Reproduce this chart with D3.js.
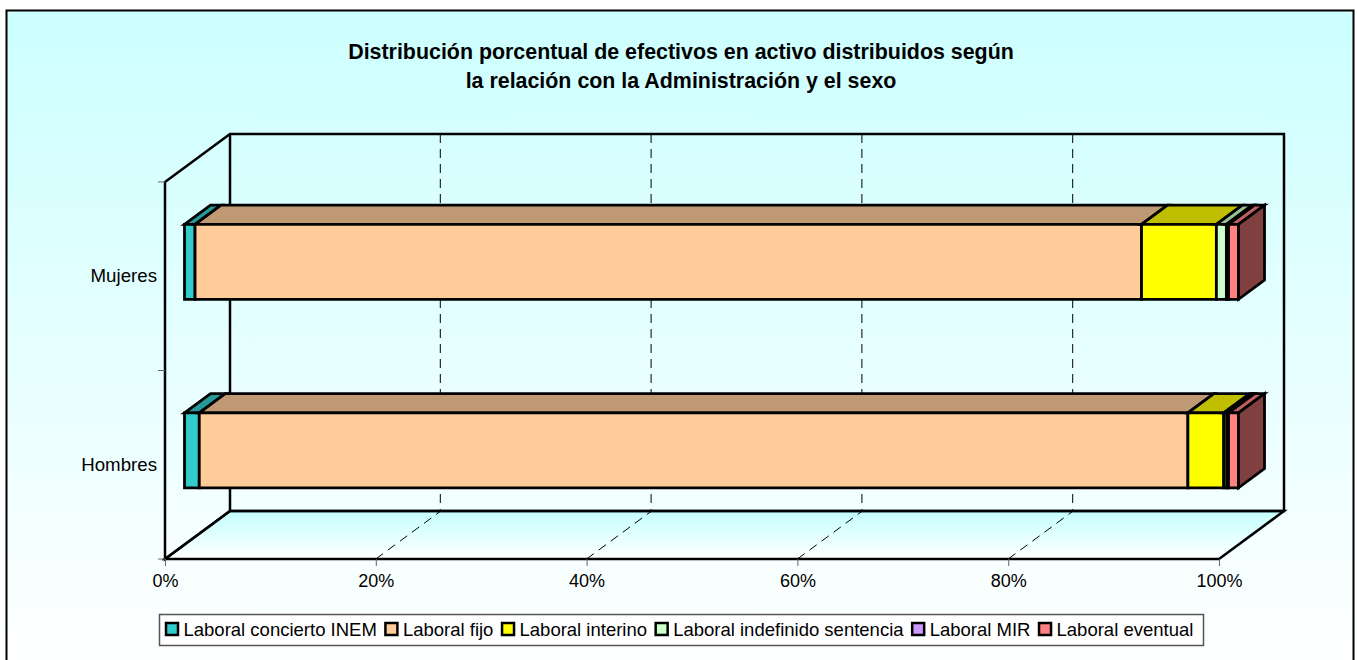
<!DOCTYPE html>
<html>
<head>
<meta charset="utf-8">
<style>
  html, body { margin: 0; padding: 0; background: #fff; }
  svg { display: block; }
  text { font-family: "Liberation Sans", Arial, sans-serif; fill: #000; }
</style>
</head>
<body>
<div id="app"></div>
<script src="https://cdn.jsdelivr.net/npm/d3@7"></script>
<script>
const titleLines = [
  "Distribución porcentual de efectivos en activo distribuidos según",
  "la relación con la Administración y el sexo"
];
const categories = ["Mujeres", "Hombres"];
const seriesNames = [
  "Laboral concierto INEM",
  "Laboral fijo",
  "Laboral interino",
  "Laboral indefinido sentencia",
  "Laboral MIR",
  "Laboral eventual"
];
const seriesColors = ["#33CCCC", "#FFCC99", "#FFFF00", "#CCFFCC", "#CC99FF", "#FF8080"];
// percent per category, same order as categories
const inem = [1.0, 1.4];
const fijo = [89.8, 93.8];
const interino = [7.1, 3.4];
const indefinido = [0.95, 0.3];
const mir = [0.2, 0.15];
const eventual = [0.95, 0.95];
const xTicks = [0, 20, 40, 60, 80, 100];

const width = 1357;
const height = 660;

const svg = d3.select("#app").append("svg").attr("width", width).attr("height", height);

const grad = svg.append("defs").append("linearGradient")
  .attr("id", "bg").attr("x1", 0).attr("y1", 0).attr("x2", 0).attr("y2", 1);
grad.append("stop").attr("offset", "0%").attr("stop-color", "#CCFFFF");
grad.append("stop").attr("offset", "100%").attr("stop-color", "#FFFFFF");

// chart area
svg.append("rect")
  .attr("x", 6.5).attr("y", 10.5).attr("width", 1347).attr("height", 660)
  .attr("fill", "url(#bg)").attr("stroke", "#000").attr("stroke-width", 2);

svg.append("g").selectAll("text").data(titleLines).join("text")
  .attr("x", 681).attr("y", (d, i) => 59 + i * 29)
  .attr("text-anchor", "middle")
  .attr("font-weight", "bold").attr("font-size", 21.4)
  .text(d => d);

// front plane scales, the depth goes up and to the right
const x = d3.scaleLinear().domain([0, 100]).range([165, 1219]);
const y = d3.scaleBand().domain(categories).range([182, 559]);
const depth = [65, -48];
const barStart = 0.3; // where the bar sits along the depth
const barDepth = 0.4;

const at = (px, py, t) => [px + depth[0] * t, py + depth[1] * t];
const poly = pts => "M" + pts.map(p => p.join(",")).join("L") + "Z";

const black = { stroke: "#000", width: 2.5 };
const floorGrad = svg.select("defs").append("linearGradient")
  .attr("id", "floor").attr("x1", 0).attr("y1", 0).attr("x2", 0).attr("y2", 1);
floorGrad.append("stop").attr("offset", "0%").attr("stop-color", "#C4FFFF");
floorGrad.append("stop").attr("offset", "100%").attr("stop-color", "#FFFFFF");

const yTop = y.range()[0];
const yBottom = y.range()[1];

// floor
svg.append("path")
  .attr("d", poly([[x(0), yBottom], [x(100), yBottom], at(x(100), yBottom, 1), at(x(0), yBottom, 1)]))
  .attr("fill", "url(#floor)").attr("stroke", black.stroke).attr("stroke-width", black.width);

// walls
svg.append("path")
  .attr("d", poly([[x(0), yTop], at(x(0), yTop, 1), at(x(100), yTop, 1), at(x(100), yBottom, 1), at(x(0), yBottom, 1), [x(0), yBottom]]))
  .attr("fill", "none").attr("stroke", black.stroke).attr("stroke-width", black.width);
svg.append("path")
  .attr("d", "M" + at(x(0), yTop, 1).join(",") + "L" + at(x(0), yBottom, 1).join(","))
  .attr("stroke", black.stroke).attr("stroke-width", black.width);

// gridlines on back wall and floor
const grid = svg.append("g").attr("fill", "none").attr("stroke", "#000").attr("stroke-dasharray", "9,6");
xTicks.slice(1, -1).forEach(t => {
  const b = at(x(t), yBottom, 1);
  const tp = at(x(t), yTop, 1);
  grid.append("path").attr("d", `M${tp[0] - 0.5},${tp[1]}V${b[1]}`);
  grid.append("path").attr("d", `M${x(t)},${yBottom}L${b[0]},${b[1]}`);
});

// axes
const xAxis = svg.append("g")
  .attr("transform", `translate(0,${yBottom})`)
  .call(d3.axisBottom(x).tickValues(xTicks).tickFormat(d => d + "%").tickSize(7).tickPadding(8));
xAxis.select(".domain").remove();
xAxis.selectAll("line").attr("stroke", "#666");
xAxis.selectAll("text").attr("font-size", 18).attr("font-family", null);

const yAxis = svg.append("g");
[yTop].concat(categories.map(c => y(c) + y.bandwidth())).forEach(v => {
  yAxis.append("line").attr("x1", x(0) - 7).attr("x2", x(0)).attr("y1", v).attr("y2", v).attr("stroke", "#666");
});
yAxis.selectAll("text").data(categories).join("text")
  .attr("x", 157).attr("y", d => y(d) + y.bandwidth() / 2 + 6)
  .attr("text-anchor", "end").attr("font-size", 18.7)
  .text(d => d);

// bars
const rows = categories.map((c, i) => ({
  category: c, a: inem[i], b: fijo[i], c2: interino[i], d: indefinido[i], e: mir[i], f: eventual[i]
}));
const keys = ["a", "b", "c2", "d", "e", "f"];
const stacked = d3.stack().keys(keys)(rows);
const barH = 75;

const shade = (col, k) => {
  const c = d3.rgb(col);
  return d3.rgb(c.r * k, c.g * k, c.b * k).formatHex();
};

const bars = svg.append("g").attr("stroke", black.stroke).attr("stroke-width", 2.8).attr("stroke-linejoin", "miter");
stacked.forEach((s, si) => {
  s.forEach(d => {
    const cy = y(d.data.category) + y.bandwidth() / 2;
    const top = cy - barH / 2 + depth[1] * barStart;
    const x0 = x(d[0]) + depth[0] * barStart;
    const x1 = x(d[1]) + depth[0] * barStart;
    const bot = top + barH;
    // top face
    bars.append("path")
      .attr("d", poly([[x0, top], [x1, top], at(x1, top, barDepth), at(x0, top, barDepth)]))
      .attr("fill", shade(seriesColors[si], 0.75));
    // front face
    bars.append("path")
      .attr("d", poly([[x0, top], [x1, top], [x1, bot], [x0, bot]]))
      .attr("fill", seriesColors[si]);
    // end face only on the last series
    if (si === stacked.length - 1) {
      bars.append("path")
        .attr("d", poly([[x1, top], at(x1, top, barDepth), at(x1, bot, barDepth), [x1, bot]]))
        .attr("fill", shade(seriesColors[si], 0.5));
    }
  });
});

// legend
const legend = svg.append("g");
legend.append("rect")
  .attr("x", 159.5).attr("y", 614.5).attr("width", 1044).attr("height", 31)
  .attr("fill", "#fff").attr("stroke", "#555").attr("stroke-width", 1.5);
let lx = 166;
seriesNames.forEach((name, i) => {
  legend.append("rect")
    .attr("x", lx).attr("y", 623).attr("width", 12).attr("height", 12)
    .attr("fill", seriesColors[i]).attr("stroke", "#000").attr("stroke-width", 2.5);
  const t = legend.append("text")
    .attr("x", lx + 17.5).attr("y", 636).attr("font-size", 18.5).text(name);
  lx += 17.5 + t.node().getComputedTextLength() + 8.6;
});
</script>
</body>
</html>
